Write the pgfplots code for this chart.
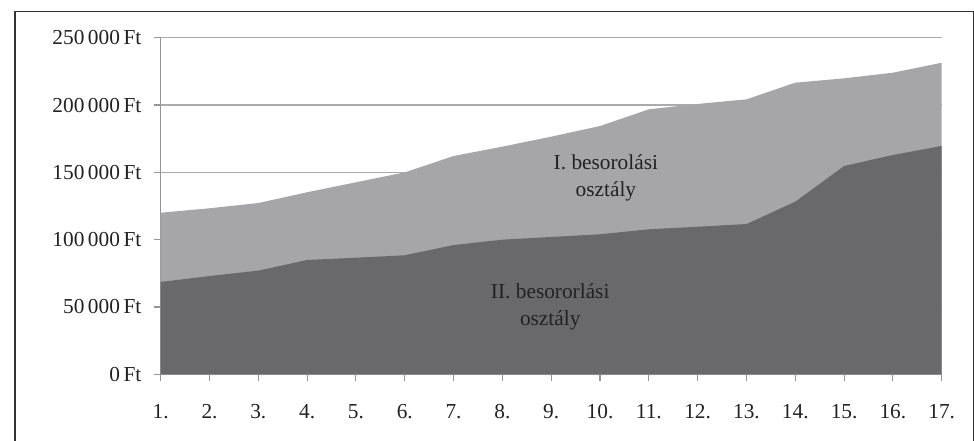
\documentclass[border=0pt]{standalone}
\usepackage{pgfplots}
\pgfplotsset{compat=1.18}
\usepackage{fontspec}
\setmainfont{Liberation Serif}
\definecolor{lightA}{HTML}{A6A6A9}
\definecolor{darkA}{HTML}{69696B}
\definecolor{gridc}{HTML}{ABABAB}
\definecolor{axisc}{HTML}{959595}
\definecolor{txt}{HTML}{222222}
\begin{document}
\begin{tikzpicture}
\useasboundingbox (0,0) rectangle (730.5pt,330pt);
\draw[line width=0.8pt, black!80] (11.25pt,-10pt) rectangle (730pt,321.2pt);
\begin{axis}[
  at={(120.525pt,49.275pt)}, anchor=south west,
  scale only axis, width=585.75pt, height=252.45pt,
  xmin=1, xmax=17, ymin=0, ymax=250000,
  axis x line*=bottom, axis y line*=left,
  axis line style={-, draw=axisc, line width=0.8pt},
  xtick={1,...,17},
  xticklabels={1.,2.,3.,4.,5.,6.,7.,8.,9.,10.,11.,12.,13.,14.,15.,16.,17.},
  ytick={0,50000,100000,150000,200000,250000},
  yticklabels={0\,Ft,50\,000\,Ft,100\,000\,Ft,150\,000\,Ft,200\,000\,Ft,250\,000\,Ft},
  tick align=outside, major tick length=5pt,
  tick style={draw=axisc, line width=0.8pt},
  ymajorgrids, grid style={draw=gridc, line width=0.8pt},
  tick label style={font=\fontsize{16}{19}\selectfont, text=txt},
  xticklabel style={yshift=-14pt},
  yticklabel style={xshift=-6pt},
  scaled y ticks=false,
]
\addplot[draw=none, fill=lightA] coordinates {
(1,120000) (2,123300) (3,127200) (4,135200) (5,142600) (6,150000) (7,162100) (8,169100) (9,176500)
(10,184400) (11,196800) (12,200800) (13,204200) (14,216600) (15,219800) (16,224000) (17,231400)
} \closedcycle;
\addplot[draw=none, fill=darkA] coordinates {
(1,68600) (2,73000) (3,77000) (4,84900) (5,86600) (6,88400) (7,96000) (8,100000) (9,102000)
(10,104000) (11,107700) (12,109600) (13,111600) (14,128200) (15,154700) (16,162900) (17,169600)
} \closedcycle;
\node[align=center, text=txt, font=\fontsize{16}{20}\selectfont] at (axis cs:10.12,145800) {I. besorolási\\osztály};
\node[align=center, text=txt, font=\fontsize{16}{20}\selectfont] at (axis cs:8.98,50200) {II. besororlási\\osztály};
\end{axis}
\end{tikzpicture}
\end{document}
